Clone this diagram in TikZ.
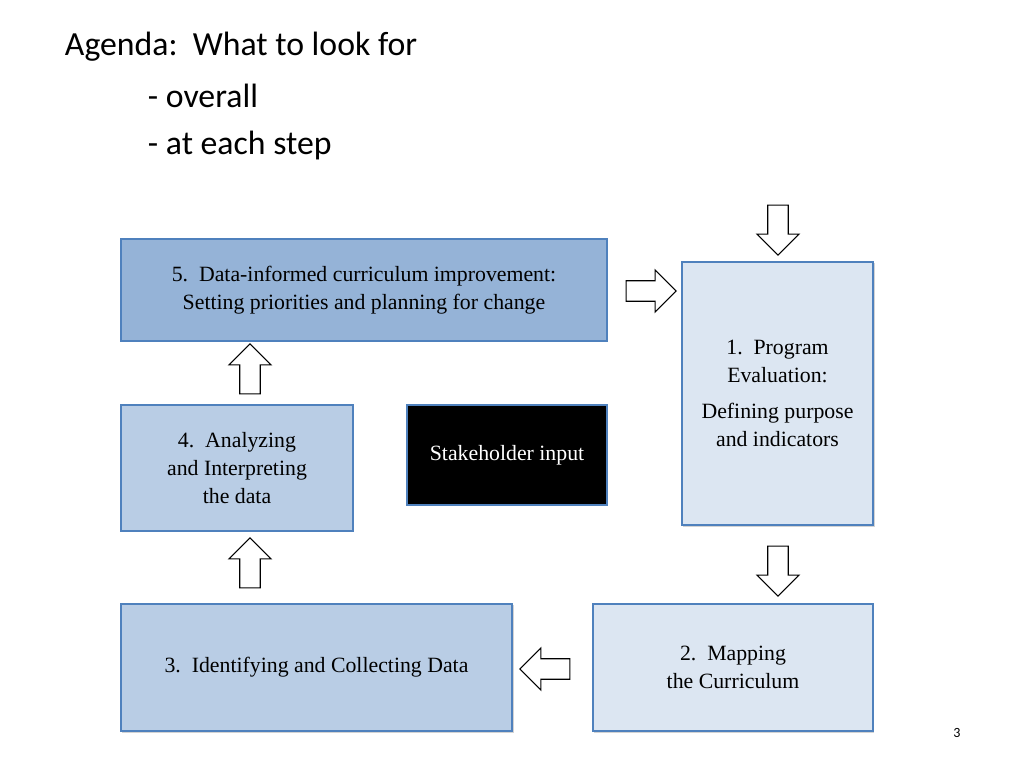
\documentclass[tikz,border=0pt]{standalone}
\usepackage{fontspec}
\setmainfont{Liberation Serif}
\newfontfamily\titlefont{Carlito}
\usetikzlibrary{shapes.arrows, shadows}

\definecolor{boxline}{HTML}{4F81BD}
\definecolor{darkfill}{HTML}{95B3D7}
\definecolor{midfill}{HTML}{B9CDE5}
\definecolor{lightfill}{HTML}{DCE6F2}

\tikzset{
  stage/.style={draw=boxline, line width=1.2pt, align=center, font=\fontsize{15.5}{20}\selectfont,
    drop shadow={shadow xshift=1pt, shadow yshift=-1pt, opacity=0.35}},
  blockarrow/.style={single arrow, draw=black, fill=white, line width=0.8pt,
    minimum height=1.25cm, minimum width=1.05cm, single arrow head extend=0.12cm,
    inner sep=0.1cm}
}

\begin{document}
\begin{tikzpicture}[x=0.025cm, y=-0.025cm]
    \useasboundingbox (0,0) rectangle (1024,768);
    % title
    \node [anchor=west, font=\titlefont\fontsize{24}{29}\selectfont] (title) at (60,47) {Agenda:\ \ What to look for};
    \node [anchor=west, font=\titlefont\fontsize{24}{29}\selectfont] (sub1) at (143,96) {- overall};
    \node [anchor=west, font=\titlefont\fontsize{24}{29}\selectfont] (sub2) at (143,146) {- at each step};

    % stages
    \node [stage, fill=darkfill, minimum width=12.15cm, minimum height=2.55cm] (improve) at (364,290)
        {5.\ \ Data-informed curriculum improvement:\\Setting priorities and planning for change};
    \node [stage, fill=lightfill, minimum width=4.78cm, minimum height=6.58cm] (evaluate) at (777.5,393.5)
        {1.\ \ Program\\Evaluation:\\[6pt]Defining purpose\\and indicators};
    \node [stage, fill=midfill, minimum width=5.8cm, minimum height=3.15cm] (analyze) at (237,468)
        {4.\ \ Analyzing\\and Interpreting\\the data};
    \node [stage, fill=black, text=white, minimum width=5cm, minimum height=2.5cm, inner sep=0pt] (stake) at (507,455)
        {Stakeholder input};
    \node [stage, fill=midfill, minimum width=9.78cm, minimum height=3.18cm] (collect) at (316.5,667.5)
        {3.\ \ Identifying and Collecting Data};
    \node [stage, fill=lightfill, minimum width=7cm, minimum height=3.18cm] (mapping) at (733,667.5)
        {2.\ \ Mapping\\the Curriculum};

    % block arrows
    \node [blockarrow, rotate=-90] (intop) at (778,225) {};
    \node [blockarrow] (toeval) at (646,291) {};
    \node [blockarrow, rotate=-90] (tomap) at (778,566) {};
    \node [blockarrow, rotate=180] (tocollect) at (550,669) {};
    \node [blockarrow, rotate=90] (toanalyze) at (250,568) {};
    \node [blockarrow, rotate=90] (toimprove) at (250,374) {};

    % page number
    \node [font=\titlefont\fontsize{10}{12}\selectfont] (page) at (957,733) {3};
\end{tikzpicture}
\end{document}
